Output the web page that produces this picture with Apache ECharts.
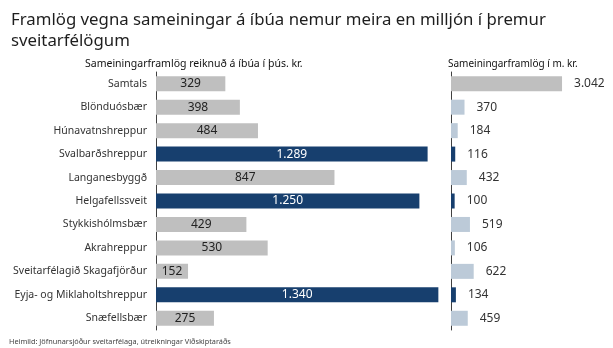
<!DOCTYPE html>
<html><head><meta charset="utf-8">
<script src="https://cdn.jsdelivr.net/npm/echarts@6/dist/echarts.min.js"></script>
<style>html,body{margin:0;padding:0;background:#fff}#c{width:613px;height:348px}</style>
</head><body><div id="c"></div>
<script>
const categories = ["Samtals","Blönduósbær","Húnavatnshreppur","Svalbarðshreppur","Langanesbyggð","Helgafellssveit","Stykkishólmsbær","Akrahreppur","Sveitarfélagið Skagafjörður","Eyja- og Miklaholtshreppur","Snæfellsbær"];
const perCapita = [329,398,484,1289,847,1250,429,530,152,1340,275];
const totalMkr = [3042,370,184,116,432,100,519,106,622,134,459];
const highlight = [false,false,false,true,false,true,false,false,false,true,false];
const isTotal = [true,false,false,false,false,false,false,false,false,false,false];
const titleText = "Framlög vegna sameiningar á íbúa nemur meira en milljón í þremur\nsveitarfélögum";
const leftHeader = "Sameiningarframlög reiknuð á íbúa í þús. kr.";
const rightHeader = "Sameiningarframlög í m. kr.";
const source = "Heimild: Jöfnunarsjóður sveitarfélaga, útreikningar Viðskiptaráðs";

const NAVY = "#173f6e", GREY = "#bfbfbf", LIGHT = "#bccad8";
const fmt = v => String(v).replace(/\B(?=(\d{3})+(?!\d))/g, ".");
const FONT = "Noto Sans";

const chart = echarts.init(document.getElementById('c'));
chart.setOption({
  animation:false,
  textStyle:{fontFamily:FONT},
  title:[
    {text:titleText,left:6,top:5,textStyle:{fontFamily:FONT,fontSize:16.8,fontWeight:'normal',color:'#1e1e1e',lineHeight:21}},
    {text:leftHeader,left:80,top:54,textStyle:{fontFamily:FONT,fontSize:10.5,fontWeight:'normal',color:'#111'}},
    {text:rightHeader,left:443,top:54,textStyle:{fontFamily:FONT,fontSize:10,fontWeight:'normal',color:'#111'}},
    {text:source,left:4,top:333,textStyle:{fontFamily:FONT,fontSize:7.3,fontWeight:'normal',color:'#444'}}
  ],
  grid:[
    {left:156,top:72,width:295,height:258},
    {left:451,top:72,width:146,height:258}
  ],
  xAxis:[
    {gridIndex:0,type:'value',min:0,max:1400,show:false},
    {gridIndex:1,type:'value',min:0,max:4000,show:false}
  ],
  yAxis:[
    {gridIndex:0,type:'category',data:categories,inverse:true,
     axisLine:{lineStyle:{color:'#404040'}},axisTick:{show:false},
     axisLabel:{fontFamily:FONT,fontSize:10.5,color:'#333',margin:9}},
    {gridIndex:1,type:'category',data:categories,inverse:true,
     axisLine:{lineStyle:{color:'#404040'}},axisTick:{show:false},axisLabel:{show:false}}
  ],
  series:[
    {type:'bar',xAxisIndex:0,yAxisIndex:0,barWidth:15,
     data:perCapita.map((v,i)=>({value:v,itemStyle:{color:highlight[i]?NAVY:GREY},
       label:{color:highlight[i]?'#fff':'#222'}})),
     label:{show:true,position:'inside',fontFamily:FONT,fontSize:12,formatter:p=>fmt(p.value)}},
    {type:'bar',xAxisIndex:1,yAxisIndex:1,barWidth:15,
     data:totalMkr.map((v,i)=>({value:v,itemStyle:{color:isTotal[i]?GREY:(highlight[i]?NAVY:LIGHT)}})),
     label:{show:true,position:'right',distance:12,fontFamily:FONT,fontSize:12,color:'#333',formatter:p=>fmt(p.value)}}
  ]
});
</script></body></html>
